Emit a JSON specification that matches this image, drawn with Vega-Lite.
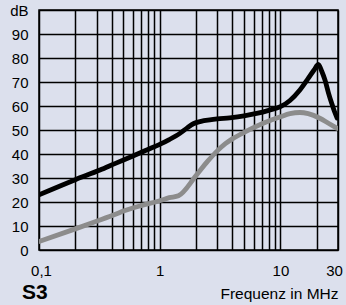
{
  "$schema": "https://vega.github.io/schema/vega-lite/v6.json",
  "autosize": "none",
  "width": 299,
  "height": 240,
  "padding": {"left": 39, "top": 10, "right": 8, "bottom": 55},
  "background": "#dce0ed",
  "config": {
    "view": {"stroke": "#000000", "strokeWidth": 1.5, "fill": "#dce0ed"},
    "font": "Liberation Sans"
  },
  "title": {
    "text": "S3",
    "orient": "bottom",
    "anchor": "start",
    "frame": "group",
    "fontSize": 21,
    "fontWeight": "bold",
    "font": "Liberation Sans",
    "color": "#000000",
    "dx": -17,
    "offset": -20
  },
  "data": {
    "values": [
      {"f": 0.1, "db": 23, "s": "black"},
      {"f": 0.2, "db": 29.3, "s": "black"},
      {"f": 0.32, "db": 33.3, "s": "black"},
      {"f": 0.43, "db": 36.1, "s": "black"},
      {"f": 0.6, "db": 39.2, "s": "black"},
      {"f": 0.8, "db": 41.9, "s": "black"},
      {"f": 1, "db": 44, "s": "black"},
      {"f": 1.2, "db": 46, "s": "black"},
      {"f": 1.47, "db": 48.6, "s": "black"},
      {"f": 1.7, "db": 51, "s": "black"},
      {"f": 1.9, "db": 52.6, "s": "black"},
      {"f": 2.2, "db": 53.6, "s": "black"},
      {"f": 2.6, "db": 54.2, "s": "black"},
      {"f": 3, "db": 54.6, "s": "black"},
      {"f": 3.8, "db": 55.1, "s": "black"},
      {"f": 5, "db": 55.9, "s": "black"},
      {"f": 6.5, "db": 57, "s": "black"},
      {"f": 8, "db": 58.2, "s": "black"},
      {"f": 10, "db": 59.7, "s": "black"},
      {"f": 12, "db": 62.3, "s": "black"},
      {"f": 14.5, "db": 66.7, "s": "black"},
      {"f": 17, "db": 71.5, "s": "black"},
      {"f": 19, "db": 75, "s": "black"},
      {"f": 20.6, "db": 77.3, "s": "black"},
      {"f": 22, "db": 74.5, "s": "black"},
      {"f": 23.4, "db": 70.8, "s": "black"},
      {"f": 25, "db": 65.5, "s": "black"},
      {"f": 26.6, "db": 61.1, "s": "black"},
      {"f": 28, "db": 57.8, "s": "black"},
      {"f": 29.5, "db": 55, "s": "black"},
      {"f": 0.1, "db": 3.5, "s": "grey"},
      {"f": 0.2, "db": 8.8, "s": "grey"},
      {"f": 0.3, "db": 12, "s": "grey"},
      {"f": 0.43, "db": 14.9, "s": "grey"},
      {"f": 0.5, "db": 16.2, "s": "grey"},
      {"f": 0.7, "db": 18.5, "s": "grey"},
      {"f": 1, "db": 20.5, "s": "grey"},
      {"f": 1.2, "db": 21.8, "s": "grey"},
      {"f": 1.43, "db": 22.6, "s": "grey"},
      {"f": 2, "db": 31, "s": "grey"},
      {"f": 2.5, "db": 37, "s": "grey"},
      {"f": 3, "db": 41.3, "s": "grey"},
      {"f": 3.5, "db": 44.3, "s": "grey"},
      {"f": 4, "db": 46.3, "s": "grey"},
      {"f": 5, "db": 49, "s": "grey"},
      {"f": 7.2, "db": 52.8, "s": "grey"},
      {"f": 10, "db": 55.5, "s": "grey"},
      {"f": 12, "db": 56.8, "s": "grey"},
      {"f": 14.5, "db": 57.3, "s": "grey"},
      {"f": 17, "db": 56.8, "s": "grey"},
      {"f": 21.2, "db": 54.9, "s": "grey"},
      {"f": 25, "db": 52.8, "s": "grey"},
      {"f": 29.5, "db": 50.7, "s": "grey"}
    ]
  },
  "mark": {"type": "line", "interpolate": "monotone", "strokeWidth": 4.8, "strokeCap": "round", "strokeJoin": "round", "clip": true},
  "encoding": {
    "x": {
      "field": "f",
      "type": "quantitative",
      "scale": {"type": "log", "domain": [0.1, 30], "nice": false},
      "axis": {
        "values": [0.1, 0.2, 0.3, 0.4, 0.5, 0.6, 0.7, 0.8, 0.9, 1, 2, 3, 4, 5, 6, 7, 8, 9, 10, 20, 30],
        "labelExpr": "datum.value == 0.1 ? '0,1' : ((datum.value == 1 || datum.value == 10 || datum.value == 30) ? datum.label : '')",
        "format": "d",
        "labelOverlap": false,
        "labelFlush": false,
        "labelOffset": {"expr": "datum.value == 30 ? -4 : (datum.value == 0.1 ? 2 : 0)"},
        "grid": true,
        "gridColor": "#000000",
        "gridWidth": 1.5,
        "gridOpacity": 1,
        "ticks": false,
        "domain": false,
        "labelPadding": 13,
        "labelFontSize": 15,
        "labelColor": "#000000",
        "labelFont": "Liberation Sans",
        "title": "Frequenz in MHz",
        "titleAnchor": "end",
        "titleAlign": "right",
        "titleFontSize": 15.5,
        "titleFontWeight": "normal",
        "titleColor": "#000000",
        "titleFont": "Liberation Sans",
        "titlePadding": 8
      }
    },
    "y": {
      "field": "db",
      "type": "quantitative",
      "scale": {"domain": [0, 100], "nice": false},
      "axis": {
        "values": [0, 10, 20, 30, 40, 50, 60, 70, 80, 90, 100],
        "labelExpr": "datum.value == 100 ? 'dB' : datum.label",
        "grid": true,
        "gridColor": "#000000",
        "gridWidth": 1.5,
        "gridOpacity": 1,
        "ticks": false,
        "domain": false,
        "labelPadding": 11,
        "labelFontSize": 15,
        "labelColor": "#000000",
        "labelFont": "Liberation Sans",
        "title": null
      }
    },
    "color": {
      "field": "s",
      "type": "nominal",
      "scale": {"domain": ["black", "grey"], "range": ["#000000", "#8c8c8c"]},
      "legend": null
    }
  }
}
